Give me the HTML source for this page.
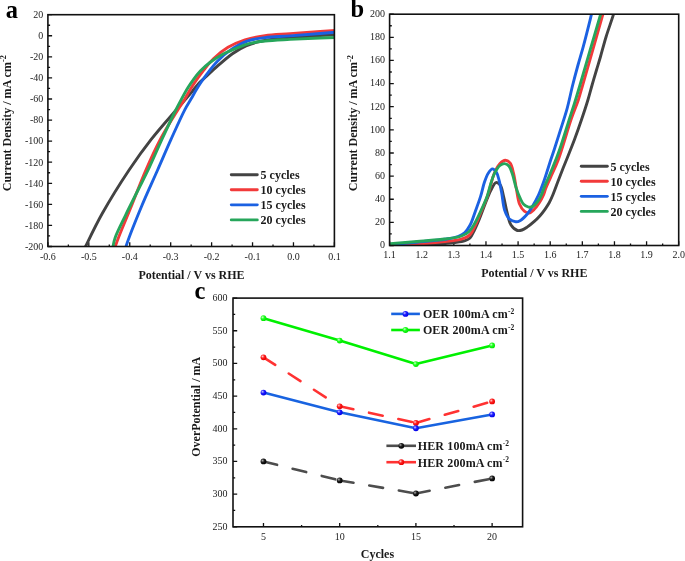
<!DOCTYPE html><html><head><meta charset="utf-8"><style>html,body{margin:0;padding:0;background:#fff;width:685px;height:561px;overflow:hidden}svg{display:block;filter:blur(0.3px)}text{font-family:"Liberation Serif",serif}.t{font-size:10px;fill:#1c1c1c}.lb{font-size:12px;font-weight:bold;fill:#1a1a1a}.pl{font-size:24.5px;font-weight:bold;fill:#000}</style></head><body>
<svg width="685" height="561" viewBox="0 0 685 561">
<defs><clipPath id="ca"><rect x="47.9" y="14.7" width="286.5" height="231.8"/></clipPath><clipPath id="cb"><rect x="389.6" y="14.2" width="289.1" height="231.3"/></clipPath><radialGradient id="gB" cx="0.35" cy="0.35" r="0.65"><stop offset="0" stop-color="#c8c8ff"/><stop offset="0.45" stop-color="#2020ff"/><stop offset="1" stop-color="#0000e6"/></radialGradient><radialGradient id="gG" cx="0.35" cy="0.35" r="0.65"><stop offset="0" stop-color="#d0ffd0"/><stop offset="0.45" stop-color="#20ff20"/><stop offset="1" stop-color="#00e600"/></radialGradient><radialGradient id="gR" cx="0.35" cy="0.35" r="0.65"><stop offset="0" stop-color="#ffd0d0"/><stop offset="0.45" stop-color="#ff2020"/><stop offset="1" stop-color="#e60000"/></radialGradient><radialGradient id="gK" cx="0.35" cy="0.35" r="0.65"><stop offset="0" stop-color="#b0b0b0"/><stop offset="0.45" stop-color="#202020"/><stop offset="1" stop-color="#000"/></radialGradient></defs>
<text class="pl" x="5.8" y="17.6">a</text>
<path d="M47.9,246.5v-4.3 M88.83,246.5v-4.3 M129.76,246.5v-4.3 M170.69,246.5v-4.3 M211.61,246.5v-4.3 M252.54,246.5v-4.3 M293.47,246.5v-4.3 M334.4,246.5v-4.3 M68.36,246.5v-2.1 M109.29,246.5v-2.1 M150.22,246.5v-2.1 M191.15,246.5v-2.1 M232.08,246.5v-2.1 M273.01,246.5v-2.1 M313.94,246.5v-2.1 M47.9,14.7h4.2 M47.9,35.77h4.2 M47.9,56.85h4.2 M47.9,77.92h4.2 M47.9,98.99h4.2 M47.9,120.06h4.2 M47.9,141.14h4.2 M47.9,162.21h4.2 M47.9,183.28h4.2 M47.9,204.35h4.2 M47.9,225.43h4.2 M47.9,246.5h4.2 M47.9,25.24h2.2 M47.9,46.31h2.2 M47.9,67.38h2.2 M47.9,88.45h2.2 M47.9,109.53h2.2 M47.9,130.6h2.2 M47.9,151.67h2.2 M47.9,172.75h2.2 M47.9,193.82h2.2 M47.9,214.89h2.2 M47.9,235.96h2.2" stroke="#111" stroke-width="1.3" fill="none"/>
<g clip-path="url(#ca)" fill="none" stroke-width="2.9" stroke-linejoin="round" stroke-linecap="round">
<path d="M82.5,253 C83.6,250.67 84.25,249.17 85.8,246 C89.14,239.16 95.71,225.21 102.1,213.8 C109.73,200.17 120.32,183.15 129.1,170 C136.62,158.74 143.47,149.26 151.2,139.4 C158.88,129.6 168.78,118.57 175.3,111 C179.69,105.91 183.29,101.9 186.4,98.3 C188.68,95.66 190.31,93.8 192.3,91.4 C194.41,88.85 196.47,85.79 198.7,83.4 C200.75,81.2 202.62,79.78 205.1,77.5 C208.54,74.34 213.05,70.01 217.4,66.2 C222.11,62.08 227.37,57.22 232.4,53.7 C236.91,50.54 241.15,47.9 246,45.8 C251,43.63 255.86,42.28 262,41 C269.98,39.33 279.5,38.6 290,37.6 C303.43,36.32 320.67,35.47 336,34.4" stroke="#434343"/>
<path d="M114.3,253 C114.63,250.87 114.49,249.57 115.3,246.6 C117.35,239.09 125.48,220.81 130.6,208 C135.68,195.28 140.7,181.91 145.9,170 C150.62,159.18 154.93,149.5 160.3,139.4 C165.83,128.99 174.18,115.85 178.7,108.5 C181.24,104.37 182.82,102.17 184.8,98.9 C186.82,95.57 188.74,91.87 190.7,88.7 C192.47,85.84 194.08,83.47 196,80.7 C198.14,77.62 200.35,74.47 203,71.1 C206.13,67.13 209.65,62.39 213.7,58.5 C217.94,54.42 222.82,50.41 228,47.3 C233.24,44.16 239,41.73 245,39.8 C251.3,37.77 257.93,36.62 265,35.6 C272.84,34.47 280.4,34.33 290,33.6 C303.01,32.61 320.67,31.4 336,30.3" stroke="#f23a3a"/>
<path d="M124.5,253 C125.07,250.63 125.18,249.17 126.2,245.9 C128.66,238.02 136.18,219.32 141.5,206.5 C146.66,194.04 152.49,181.63 157.6,170 C162.28,159.35 166.43,149.53 171,139.4 C175.56,129.3 181.16,116.62 185,109.3 C187.29,104.93 189.1,102.38 191,99.1 C192.75,96.07 194.26,93.19 196,90.3 C197.73,87.42 199.57,84.52 201.4,81.8 C203.14,79.2 204.57,77.1 206.7,74.3 C209.59,70.49 213.42,65.27 217.4,61.2 C221.49,57.02 226,52.96 231,49.6 C236.17,46.12 242.18,42.8 248,40.8 C253.53,38.89 258.76,38.4 265,37.6 C272.51,36.64 280.41,36.62 290,35.9 C303.02,34.92 320.67,33.37 336,32.1" stroke="#1b61e2"/>
<path d="M112.3,253 C112.57,250.63 112.65,248.37 113.1,245.9 C113.6,243.13 114.06,240.69 115.3,237.2 C117.34,231.48 121.83,222.91 125.5,215.3 C129.54,206.91 134.58,197.05 138.6,189 C142.02,182.15 144.72,177.12 148.1,170 C152.36,161.05 157.29,149.39 161.9,139.4 C166.36,129.74 171.61,118.45 175.3,111 C177.74,106.09 179.46,102.85 181.6,98.9 C183.69,95.05 185.89,91 188,87.6 C189.82,84.66 191.43,82.26 193.4,79.6 C195.5,76.76 197.69,73.84 200.3,71.1 C203.13,68.13 206.29,65.24 209.9,62.5 C213.97,59.41 218.9,56.24 223.7,53.7 C228.47,51.17 233.93,49.1 238.6,47.3 C242.62,45.75 245.89,44.42 250,43.4 C254.61,42.25 259.35,41.63 265,41 C272.26,40.19 280.4,39.92 290,39.4 C303.01,38.7 320.67,38.07 336,37.4" stroke="#26a65b"/>
</g>
<rect x="47.9" y="14.7" width="286.5" height="231.8" fill="none" stroke="#111" stroke-width="1.6"/>
<text class="t" x="43.3" y="18" text-anchor="end">20</text>
<text class="t" x="43.3" y="39.07" text-anchor="end">0</text>
<text class="t" x="43.3" y="60.15" text-anchor="end">-20</text>
<text class="t" x="43.3" y="81.22" text-anchor="end">-40</text>
<text class="t" x="43.3" y="102.29" text-anchor="end">-60</text>
<text class="t" x="43.3" y="123.36" text-anchor="end">-80</text>
<text class="t" x="43.3" y="144.44" text-anchor="end">-100</text>
<text class="t" x="43.3" y="165.51" text-anchor="end">-120</text>
<text class="t" x="43.3" y="186.58" text-anchor="end">-140</text>
<text class="t" x="43.3" y="207.65" text-anchor="end">-160</text>
<text class="t" x="43.3" y="228.73" text-anchor="end">-180</text>
<text class="t" x="43.3" y="249.8" text-anchor="end">-200</text>
<text class="t" x="47.9" y="259.6" text-anchor="middle">-0.6</text>
<text class="t" x="88.83" y="259.6" text-anchor="middle">-0.5</text>
<text class="t" x="129.76" y="259.6" text-anchor="middle">-0.4</text>
<text class="t" x="170.69" y="259.6" text-anchor="middle">-0.3</text>
<text class="t" x="211.61" y="259.6" text-anchor="middle">-0.2</text>
<text class="t" x="252.54" y="259.6" text-anchor="middle">-0.1</text>
<text class="t" x="293.47" y="259.6" text-anchor="middle">0.0</text>
<text class="t" x="334.4" y="259.6" text-anchor="middle">0.1</text>
<text class="lb" x="191.5" y="278.6" text-anchor="middle">Potential / V vs RHE</text>
<text class="lb" transform="translate(11.0,123.2) rotate(-90)" text-anchor="middle">Current Density / mA cm<tspan font-size="8.3" dy="-4.6">-2</tspan></text>
<path d="M231.3,174.7H257.3" stroke="#434343" stroke-width="2.9" stroke-linecap="round"/>
<text class="lb" x="260.6" y="179">5 cycles</text>
<path d="M231.3,189.77H257.3" stroke="#f23a3a" stroke-width="2.9" stroke-linecap="round"/>
<text class="lb" x="260.6" y="194.07">10 cycles</text>
<path d="M231.3,204.84H257.3" stroke="#1b61e2" stroke-width="2.9" stroke-linecap="round"/>
<text class="lb" x="260.6" y="209.14">15 cycles</text>
<path d="M231.3,219.91H257.3" stroke="#26a65b" stroke-width="2.9" stroke-linecap="round"/>
<text class="lb" x="260.6" y="224.21">20 cycles</text>
<text class="pl" x="350.6" y="17.4">b</text>
<path d="M389.6,245.5v-4.3 M421.72,245.5v-4.3 M453.84,245.5v-4.3 M485.97,245.5v-4.3 M518.09,245.5v-4.3 M550.21,245.5v-4.3 M582.33,245.5v-4.3 M614.46,245.5v-4.3 M646.58,245.5v-4.3 M678.7,245.5v-4.3 M405.66,245.5v-2.1 M437.78,245.5v-2.1 M469.91,245.5v-2.1 M502.03,245.5v-2.1 M534.15,245.5v-2.1 M566.27,245.5v-2.1 M598.39,245.5v-2.1 M630.52,245.5v-2.1 M662.64,245.5v-2.1 M389.6,245.5h4.2 M389.6,222.37h4.2 M389.6,199.24h4.2 M389.6,176.11h4.2 M389.6,152.98h4.2 M389.6,129.85h4.2 M389.6,106.72h4.2 M389.6,83.59h4.2 M389.6,60.46h4.2 M389.6,37.33h4.2 M389.6,14.2h4.2 M389.6,233.94h2.2 M389.6,210.81h2.2 M389.6,187.68h2.2 M389.6,164.55h2.2 M389.6,141.41h2.2 M389.6,118.28h2.2 M389.6,95.16h2.2 M389.6,72.02h2.2 M389.6,48.89h2.2 M389.6,25.76h2.2" stroke="#111" stroke-width="1.3" fill="none"/>
<g clip-path="url(#cb)" fill="none" stroke-width="2.9" stroke-linejoin="round" stroke-linecap="round">
<path d="M386,246.6 C390.67,246.5 394.92,246.44 400,246.3 C406.07,246.13 413.34,245.98 420,245.6 C426.67,245.22 433.81,244.56 440,244 C445.36,243.52 450.52,243.15 455,242.5 C458.68,241.97 462.29,241.54 465,240.6 C467.01,239.9 468.58,239.36 470,238 C471.69,236.37 472.63,233.71 474,231 C475.8,227.45 477.77,222.84 479.6,218.4 C481.61,213.55 483.53,207.9 485.5,203 C487.33,198.47 489.02,193.65 491,190 C492.57,187.1 494.2,183.02 496,182.6 C497.33,182.29 499.07,183.58 500.2,185 C501.94,187.19 502.46,191.97 503.5,196 C504.75,200.81 505.68,206.97 507,212 C508.2,216.58 508.9,221.79 511,225 C512.66,227.53 515.3,229.85 517.4,230.5 C518.95,230.98 520.48,230.49 522,230 C523.71,229.45 525.3,228.31 527.1,227.1 C529.35,225.58 532.09,223.37 534.3,221.4 C536.37,219.56 538.22,217.71 540,215.7 C541.79,213.68 543.45,211.48 545,209.3 C546.51,207.17 547.93,205.11 549.2,202.8 C550.54,200.36 551.52,198.05 552.8,195 C554.55,190.84 556.81,184.4 558.5,180 C559.83,176.53 560.84,173.9 562.1,170.7 C563.46,167.25 564.76,164.12 566.4,160 C568.64,154.37 571.79,146.69 574.3,140 C576.79,133.36 579.13,126.68 581.4,120 C583.66,113.35 586.02,106.21 587.9,100 C589.51,94.66 590.67,90 592.1,85 C593.53,80 595.07,74.82 596.5,70 C597.83,65.51 599,61.82 600.4,57 C602.14,50.99 603.99,43.58 606.1,36.7 C608.31,29.49 611.32,21.55 613.4,14.7 C615.2,8.78 616.47,3.57 618,-2" stroke="#434343"/>
<path d="M386,246.5 C390.03,246.2 393.47,245.96 398.1,245.6 C404.33,245.11 412.46,244.44 420,243.8 C428.06,243.11 437.55,242.47 445,241.6 C451.05,240.89 456.92,240.62 461.4,239.2 C464.8,238.12 467.65,237.03 469.9,234.9 C472.23,232.69 473.33,229.36 475,226 C477.04,221.91 478.98,216.83 481,212 C483.15,206.85 485.42,201.9 487.5,196 C489.98,188.97 492,178.37 494.6,172.5 C496.3,168.66 497.92,165.61 500,163.5 C501.6,161.87 503.57,160.21 505.3,160.2 C506.96,160.19 508.92,161.58 510.2,163.2 C511.94,165.39 512.54,169.45 513.5,173.2 C514.68,177.83 515.39,183.81 516.4,189 C517.39,194.07 517.84,200.03 519.5,204 C520.75,206.98 522.44,209.72 524.3,211.2 C525.72,212.33 527.44,213.19 529,213 C530.77,212.78 532.67,210.86 534.3,209.3 C536.14,207.55 537.79,205.13 539.3,202.8 C540.87,200.38 542.4,197.53 543.5,195 C544.47,192.78 544.75,190.95 545.7,188.5 C546.98,185.21 548.86,181.28 550.7,177.1 C552.95,171.98 555.55,167.02 558.2,160 C562.25,149.28 567.59,129.64 571.4,118.6 C573.97,111.14 576.34,105.9 578.3,100 C580.04,94.76 580.95,91.04 582.7,85 C585.37,75.79 589.36,61.78 592.7,50.1 C596.06,38.34 600.13,24.32 602.8,14.7 C604.63,8.11 605.8,3.57 607.3,-2" stroke="#f23a3a"/>
<path d="M386,246 C388,245.6 389.25,245.22 392,244.8 C397.89,243.9 410.93,242.76 420,241.8 C428.57,240.9 438.04,240.28 445,239.2 C450.06,238.41 454.48,237.82 458,236.5 C460.66,235.5 462.67,234.52 464.6,232.8 C466.73,230.9 468.38,228.31 470,225.3 C472.06,221.48 473.56,216.13 475.3,211.4 C477.1,206.51 479.05,201.38 480.6,196.4 C482.1,191.58 483.03,186.19 484.5,182 C485.69,178.6 486.85,175.31 488.4,173 C489.59,171.23 491.04,168.96 492.4,168.9 C493.71,168.84 495.34,170.74 496.4,172.3 C497.74,174.28 498.29,177.3 499.1,180.3 C500.1,184.02 500.85,188.45 501.7,193 C502.68,198.25 503,205.33 504.6,210 C505.83,213.59 507.26,217.05 509.4,219 C511.17,220.61 513.87,221.54 515.8,221.7 C517.32,221.83 518.52,221.48 520,220.7 C522.2,219.55 525,216.74 527.1,214.3 C529.28,211.76 530.97,208.77 532.8,205.7 C534.78,202.37 536.7,198.93 538.5,195 C540.57,190.48 542.4,185.39 544.3,180 C546.47,173.84 548.88,165.52 550.7,160 C551.99,156.09 552.83,153.85 554.1,150 C555.82,144.76 557.95,137.92 560,131.4 C562.27,124.19 564.99,116.3 567.1,108.6 C569.23,100.84 570.81,92.53 572.7,85 C574.45,78.05 576.19,71.56 578,65 C579.76,58.6 581.48,53.21 583.4,46.1 C585.87,36.97 589.19,23.53 591.4,14.7 C593.01,8.27 594.13,3.57 595.5,-2" stroke="#1b61e2"/>
<path d="M386,244.2 C387.43,244.07 388.22,243.99 390.3,243.8 C395.76,243.31 410.53,242.03 420,241.2 C428.69,240.44 437.56,240.01 445,239 C451.06,238.18 457.09,237.58 461.4,236 C464.5,234.87 466.79,233.62 468.9,231.7 C471.08,229.72 472.46,227.11 474.2,224.2 C476.37,220.57 478.52,215.87 480.6,211.4 C482.83,206.63 485.33,201.31 487.1,196.4 C488.74,191.86 489.65,187.1 491,183 C492.16,179.46 493.04,176.18 494.6,173.2 C496.08,170.37 498.05,167.09 500,165.5 C501.39,164.37 502.94,163.54 504.4,163.6 C505.91,163.66 507.66,164.66 508.9,166 C510.52,167.76 511.33,171.02 512.4,174.1 C513.74,177.94 514.65,183.26 516,187.4 C517.21,191.14 518.58,194.88 520,197.9 C521.15,200.34 522.04,202.74 523.6,204.3 C524.98,205.68 526.96,206.81 528.6,207.1 C530.02,207.35 531.45,207.1 532.8,206.4 C534.54,205.5 536.38,203.28 537.8,201.4 C539.25,199.49 540.34,197.29 541.4,195 C542.53,192.55 543.15,189.95 544.3,187.1 C545.7,183.63 547.56,179.82 549.3,175.7 C551.33,170.9 553.81,164.83 555.7,160 C557.31,155.91 558.34,153.37 560,148.6 C562.73,140.74 567.15,126.01 570,117.1 C572.1,110.53 573.78,105.52 575.5,100 C577.1,94.84 578.22,91.05 580,85 C582.71,75.79 586.7,61.77 590.1,50.1 C593.53,38.34 597.79,24.32 600.5,14.7 C602.36,8.11 603.5,3.57 605,-2" stroke="#26a65b"/>
</g>
<rect x="389.6" y="14.2" width="289.1" height="231.3" fill="none" stroke="#111" stroke-width="1.6"/>
<text class="t" x="385" y="248.4" text-anchor="end">0</text>
<text class="t" x="385" y="225.27" text-anchor="end">20</text>
<text class="t" x="385" y="202.14" text-anchor="end">40</text>
<text class="t" x="385" y="179.01" text-anchor="end">60</text>
<text class="t" x="385" y="155.88" text-anchor="end">80</text>
<text class="t" x="385" y="132.75" text-anchor="end">100</text>
<text class="t" x="385" y="109.62" text-anchor="end">120</text>
<text class="t" x="385" y="86.49" text-anchor="end">140</text>
<text class="t" x="385" y="63.36" text-anchor="end">160</text>
<text class="t" x="385" y="40.23" text-anchor="end">180</text>
<text class="t" x="385" y="17.1" text-anchor="end">200</text>
<text class="t" x="389.6" y="258" text-anchor="middle">1.1</text>
<text class="t" x="421.72" y="258" text-anchor="middle">1.2</text>
<text class="t" x="453.84" y="258" text-anchor="middle">1.3</text>
<text class="t" x="485.97" y="258" text-anchor="middle">1.4</text>
<text class="t" x="518.09" y="258" text-anchor="middle">1.5</text>
<text class="t" x="550.21" y="258" text-anchor="middle">1.6</text>
<text class="t" x="582.33" y="258" text-anchor="middle">1.7</text>
<text class="t" x="614.46" y="258" text-anchor="middle">1.8</text>
<text class="t" x="646.58" y="258" text-anchor="middle">1.9</text>
<text class="t" x="678.7" y="258" text-anchor="middle">2.0</text>
<text class="lb" x="534.3" y="277.3" text-anchor="middle">Potential / V vs RHE</text>
<text class="lb" transform="translate(357.3,123.2) rotate(-90)" text-anchor="middle">Current Density / mA cm<tspan font-size="8.3" dy="-4.6">-2</tspan></text>
<path d="M581.3,166.2H607.3" stroke="#434343" stroke-width="2.9" stroke-linecap="round"/>
<text class="lb" x="610.6" y="170.5">5 cycles</text>
<path d="M581.3,181.27H607.3" stroke="#f23a3a" stroke-width="2.9" stroke-linecap="round"/>
<text class="lb" x="610.6" y="185.57">10 cycles</text>
<path d="M581.3,196.34H607.3" stroke="#1b61e2" stroke-width="2.9" stroke-linecap="round"/>
<text class="lb" x="610.6" y="200.64">15 cycles</text>
<path d="M581.3,211.41H607.3" stroke="#26a65b" stroke-width="2.9" stroke-linecap="round"/>
<text class="lb" x="610.6" y="215.71">20 cycles</text>
<text class="pl" x="194.6" y="299.4">c</text>
<path d="M263.48,526.8v-3.8 M339.69,526.8v-3.8 M415.91,526.8v-3.8 M492.12,526.8v-3.8 M301.59,526.8v-1.9 M377.8,526.8v-1.9 M454.01,526.8v-1.9 M233,526.8h4.2 M233,494.13h4.2 M233,461.46h4.2 M233,428.79h4.2 M233,396.11h4.2 M233,363.44h4.2 M233,330.77h4.2 M233,298.1h4.2 M233,510.46h2.2 M233,477.79h2.2 M233,445.12h2.2 M233,412.45h2.2 M233,379.78h2.2 M233,347.11h2.2 M233,314.44h2.2" stroke="#111" stroke-width="1.3" fill="none"/>
<rect x="233" y="298.1" width="289.6" height="228.7" fill="none" stroke="#111" stroke-width="1.6"/>
<text class="t" x="227.6" y="529.7" text-anchor="end">250</text>
<text class="t" x="227.6" y="497.03" text-anchor="end">300</text>
<text class="t" x="227.6" y="464.36" text-anchor="end">350</text>
<text class="t" x="227.6" y="431.69" text-anchor="end">400</text>
<text class="t" x="227.6" y="399.01" text-anchor="end">450</text>
<text class="t" x="227.6" y="366.34" text-anchor="end">500</text>
<text class="t" x="227.6" y="333.67" text-anchor="end">550</text>
<text class="t" x="227.6" y="301" text-anchor="end">600</text>
<text class="t" x="263.48" y="540.2" text-anchor="middle">5</text>
<text class="t" x="339.69" y="540.2" text-anchor="middle">10</text>
<text class="t" x="415.91" y="540.2" text-anchor="middle">15</text>
<text class="t" x="492.12" y="540.2" text-anchor="middle">20</text>
<text class="lb" x="377.4" text-anchor="middle" y="558">Cycles</text>
<text class="lb" transform="translate(199.7,406.8) rotate(-90)" text-anchor="middle">OverPotential / mA</text>
<path d="M263.48,461.46L339.69,480.41" stroke="#4d4d4d" stroke-width="2.6" stroke-dasharray="14 16" stroke-linecap="round" fill="none"/>
<path d="M339.69,480.41L415.91,493.48" stroke="#4d4d4d" stroke-width="2.6" stroke-dasharray="14 16" stroke-linecap="round" fill="none"/>
<path d="M415.91,493.48L492.12,478.45" stroke="#4d4d4d" stroke-width="2.6" stroke-dasharray="14 16" stroke-linecap="round" fill="none"/>
<circle cx="263.48" cy="461.46" r="2.9" fill="url(#gK)"/>
<circle cx="339.69" cy="480.41" r="2.9" fill="url(#gK)"/>
<circle cx="415.91" cy="493.48" r="2.9" fill="url(#gK)"/>
<circle cx="492.12" cy="478.45" r="2.9" fill="url(#gK)"/>
<path d="M263.48,357.3L339.69,406.31" stroke="#ff3232" stroke-width="2.6" stroke-dasharray="14 16" stroke-linecap="round" fill="none"/>
<path d="M339.69,406.31L415.91,422.9" stroke="#ff3232" stroke-width="2.6" stroke-dasharray="14 16" stroke-linecap="round" fill="none"/>
<path d="M415.91,422.9L492.12,401.47" stroke="#ff3232" stroke-width="2.6" stroke-dasharray="14 16" stroke-linecap="round" fill="none"/>
<circle cx="263.48" cy="357.3" r="2.9" fill="url(#gR)"/>
<circle cx="339.69" cy="406.31" r="2.9" fill="url(#gR)"/>
<circle cx="415.91" cy="422.9" r="2.9" fill="url(#gR)"/>
<circle cx="492.12" cy="401.47" r="2.9" fill="url(#gR)"/>
<polyline points="263.48,392.59 339.69,412.32 415.91,428.26 492.12,414.41" stroke="#1863e0" stroke-width="2.6" fill="none" stroke-linejoin="round"/>
<circle cx="263.48" cy="392.59" r="2.9" fill="url(#gB)"/>
<circle cx="339.69" cy="412.32" r="2.9" fill="url(#gB)"/>
<circle cx="415.91" cy="428.26" r="2.9" fill="url(#gB)"/>
<circle cx="492.12" cy="414.41" r="2.9" fill="url(#gB)"/>
<polyline points="263.48,318.16 339.69,340.57 415.91,364.1 492.12,345.47" stroke="#00f000" stroke-width="2.6" fill="none" stroke-linejoin="round"/>
<circle cx="263.48" cy="318.16" r="2.9" fill="url(#gG)"/>
<circle cx="339.69" cy="340.57" r="2.9" fill="url(#gG)"/>
<circle cx="415.91" cy="364.1" r="2.9" fill="url(#gG)"/>
<circle cx="492.12" cy="345.47" r="2.9" fill="url(#gG)"/>
<path d="M391.2,313.9H419.9" stroke="#1863e0" stroke-width="2.6" fill="none"/>
<circle cx="405.5" cy="313.9" r="2.9" fill="url(#gB)"/>
<text class="lb" letter-spacing="0.14" x="422.9" y="318.2">OER 100mA cm<tspan font-size="7.5" dy="-4.5">-2</tspan></text>
<path d="M391.2,330H419.9" stroke="#00f000" stroke-width="2.6" fill="none"/>
<circle cx="405.5" cy="330" r="2.9" fill="url(#gG)"/>
<text class="lb" letter-spacing="0.14" x="422.9" y="334.3">OER 200mA cm<tspan font-size="7.5" dy="-4.5">-2</tspan></text>
<path d="M386.4,445.8H416" stroke="#4d4d4d" stroke-width="2.6" fill="none"/>
<circle cx="401.3" cy="445.8" r="2.9" fill="url(#gK)"/>
<text class="lb" letter-spacing="0.14" x="417.7" y="450.1">HER 100mA cm<tspan font-size="7.5" dy="-4.5">-2</tspan></text>
<path d="M386.4,462.2H416" stroke="#ff3232" stroke-width="2.6" fill="none"/>
<circle cx="401.3" cy="462.2" r="2.9" fill="url(#gR)"/>
<text class="lb" letter-spacing="0.14" x="417.7" y="466.5">HER 200mA cm<tspan font-size="7.5" dy="-4.5">-2</tspan></text>
</svg></body></html>
